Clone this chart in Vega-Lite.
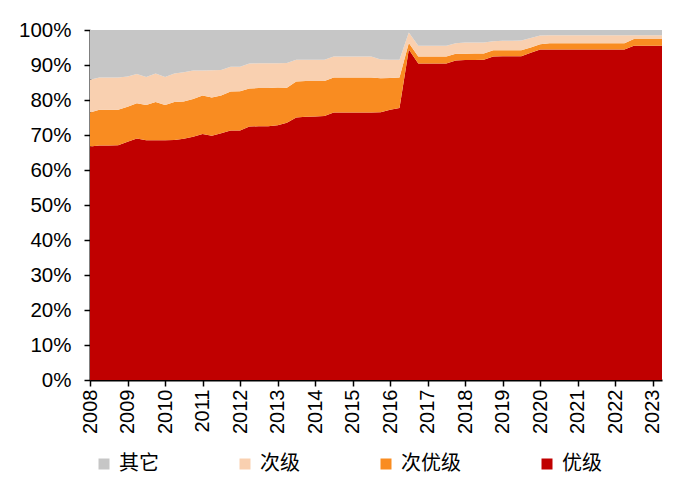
{
  "$schema": "https://vega.github.io/schema/vega-lite/v6.json",
  "width": 572,
  "height": 350,
  "autosize": {"type": "none"},
  "padding": {"left": 90, "top": 30, "right": 22, "bottom": 104},
  "background": "white",
  "config": {"view": {"stroke": null}, "font": "Liberation Sans"},
  "data": {"values": [
    {"d": "2008-01-01", "优级": 66.7, "次优级": 9.7, "次级": 9.4, "其它": 14.2},
    {"d": "2008-04-01", "优级": 67.0, "次优级": 10.2, "次级": 9.2, "其它": 13.6},
    {"d": "2008-07-01", "优级": 67.0, "次优级": 10.2, "次级": 9.2, "其它": 13.6},
    {"d": "2008-10-01", "优级": 67.1, "次优级": 10.1, "次级": 9.2, "其它": 13.6},
    {"d": "2009-01-01", "优级": 68.1, "次优级": 10.0, "次级": 8.6, "其它": 13.3},
    {"d": "2009-04-01", "优级": 69.0, "次优级": 10.1, "次级": 8.3, "其它": 12.6},
    {"d": "2009-07-01", "优级": 68.5, "次优级": 10.1, "次级": 8.0, "其它": 13.4},
    {"d": "2009-10-01", "优级": 68.5, "次优级": 10.9, "次级": 8.2, "其它": 12.4},
    {"d": "2010-01-01", "优级": 68.5, "次优级": 10.1, "次级": 8.0, "其它": 13.4},
    {"d": "2010-04-01", "优级": 68.6, "次优级": 10.8, "次级": 8.2, "其它": 12.4},
    {"d": "2010-07-01", "优级": 68.9, "次优级": 10.7, "次级": 8.3, "其它": 12.1},
    {"d": "2010-10-01", "优级": 69.5, "次优级": 10.8, "次级": 8.1, "其它": 11.6},
    {"d": "2011-01-01", "优级": 70.3, "次优级": 11.0, "次级": 7.1, "其它": 11.6},
    {"d": "2011-04-01", "优级": 69.8, "次优级": 10.9, "次级": 7.8, "其它": 11.5},
    {"d": "2011-07-01", "优级": 70.5, "次优级": 10.8, "次级": 7.3, "其它": 11.4},
    {"d": "2011-10-01", "优级": 71.3, "次优级": 11.1, "次级": 7.1, "其它": 10.5},
    {"d": "2012-01-01", "优级": 71.3, "次优级": 11.2, "次级": 7.0, "其它": 10.5},
    {"d": "2012-04-01", "优级": 72.4, "次优级": 10.9, "次级": 7.1, "其它": 9.6},
    {"d": "2012-07-01", "优级": 72.5, "次优级": 10.9, "次级": 7.1, "其它": 9.5},
    {"d": "2012-10-01", "优级": 72.5, "次优级": 10.9, "次级": 7.1, "其它": 9.5},
    {"d": "2013-01-01", "优级": 72.8, "次优级": 10.8, "次级": 6.9, "其它": 9.5},
    {"d": "2013-04-01", "优级": 73.5, "次优级": 10.0, "次级": 7.1, "其它": 9.4},
    {"d": "2013-07-01", "优级": 75.0, "次优级": 10.3, "次级": 6.2, "其它": 8.5},
    {"d": "2013-10-01", "优级": 75.2, "次优级": 10.2, "次级": 6.1, "其它": 8.5},
    {"d": "2014-01-01", "优级": 75.3, "次优级": 10.1, "次级": 6.1, "其它": 8.5},
    {"d": "2014-04-01", "优级": 75.4, "次优级": 10.0, "次级": 6.1, "其它": 8.5},
    {"d": "2014-07-01", "优级": 76.4, "次优级": 10.0, "次级": 6.0, "其它": 7.6},
    {"d": "2014-10-01", "优级": 76.4, "次优级": 10.0, "次级": 6.0, "其它": 7.6},
    {"d": "2015-01-01", "优级": 76.4, "次优级": 10.0, "次级": 6.0, "其它": 7.6},
    {"d": "2015-04-01", "优级": 76.4, "次优级": 10.0, "次级": 6.0, "其它": 7.6},
    {"d": "2015-07-01", "优级": 76.4, "次优级": 10.0, "次级": 6.0, "其它": 7.6},
    {"d": "2015-10-01", "优级": 76.5, "次优级": 9.7, "次级": 5.4, "其它": 8.4},
    {"d": "2016-01-01", "优级": 77.2, "次优级": 9.1, "次级": 5.2, "其它": 8.5},
    {"d": "2016-04-01", "优级": 77.7, "次优级": 8.7, "次级": 5.1, "其它": 8.5},
    {"d": "2016-07-01", "优级": 94.4, "次优级": 1.9, "次级": 3.0, "其它": 0.7},
    {"d": "2016-10-01", "优级": 90.4, "次优级": 2.0, "次级": 3.1, "其它": 4.5},
    {"d": "2017-01-01", "优级": 90.4, "次优级": 2.0, "次级": 3.1, "其它": 4.5},
    {"d": "2017-04-01", "优级": 90.4, "次优级": 2.0, "次级": 3.1, "其它": 4.5},
    {"d": "2017-07-01", "优级": 90.4, "次优级": 2.0, "次级": 3.1, "其它": 4.5},
    {"d": "2017-10-01", "优级": 91.3, "次优级": 1.9, "次级": 3.0, "其它": 3.8},
    {"d": "2018-01-01", "优级": 91.4, "次优级": 1.8, "次级": 3.2, "其它": 3.6},
    {"d": "2018-04-01", "优级": 91.4, "次优级": 1.9, "次级": 3.1, "其它": 3.6},
    {"d": "2018-07-01", "优级": 91.5, "次优级": 1.8, "次级": 3.1, "其它": 3.6},
    {"d": "2018-10-01", "优级": 92.4, "次优级": 1.8, "次级": 2.6, "其它": 3.2},
    {"d": "2019-01-01", "优级": 92.5, "次优级": 1.7, "次级": 2.7, "其它": 3.1},
    {"d": "2019-04-01", "优级": 92.5, "次优级": 1.7, "次级": 2.7, "其它": 3.1},
    {"d": "2019-07-01", "优级": 92.5, "次优级": 1.7, "次级": 2.8, "其它": 3.0},
    {"d": "2019-10-01", "优级": 93.5, "次优级": 1.5, "次级": 2.7, "其它": 2.3},
    {"d": "2020-01-01", "优级": 94.4, "次优级": 1.5, "次级": 2.5, "其它": 1.6},
    {"d": "2020-04-01", "优级": 94.4, "次优级": 1.8, "次级": 2.3, "其它": 1.5},
    {"d": "2020-07-01", "优级": 94.4, "次优级": 1.8, "次级": 2.3, "其它": 1.5},
    {"d": "2020-10-01", "优级": 94.4, "次优级": 1.8, "次级": 2.3, "其它": 1.5},
    {"d": "2021-01-01", "优级": 94.4, "次优级": 1.8, "次级": 2.3, "其它": 1.5},
    {"d": "2021-04-01", "优级": 94.4, "次优级": 1.8, "次级": 2.3, "其它": 1.5},
    {"d": "2021-07-01", "优级": 94.4, "次优级": 1.8, "次级": 2.3, "其它": 1.5},
    {"d": "2021-10-01", "优级": 94.4, "次优级": 1.8, "次级": 2.3, "其它": 1.5},
    {"d": "2022-01-01", "优级": 94.4, "次优级": 1.8, "次级": 2.3, "其它": 1.5},
    {"d": "2022-04-01", "优级": 94.4, "次优级": 1.8, "次级": 2.3, "其它": 1.5},
    {"d": "2022-07-01", "优级": 95.5, "次优级": 1.9, "次级": 1.1, "其它": 1.5},
    {"d": "2022-10-01", "优级": 95.5, "次优级": 1.9, "次级": 1.1, "其它": 1.5},
    {"d": "2023-01-01", "优级": 95.5, "次优级": 1.9, "次级": 1.1, "其它": 1.5},
    {"d": "2023-04-01", "优级": 95.5, "次优级": 1.9, "次级": 1.1, "其它": 1.5}
  ]},
  "transform": [
    {"fold": ["优级", "次优级", "次级", "其它"], "as": ["grade", "share"]},
    {"calculate": "indexof(['优级', '次优级', '次级', '其它'], datum.grade)", "as": "rank"}
  ],
  "mark": {"type": "area", "interpolate": "linear", "strokeWidth": 0},
  "encoding": {
    "x": {
      "field": "d", "type": "temporal",
      "scale": {"type": "utc", "nice": false},
      "axis": {
        "title": null, "format": "%Y", "tickCount": {"interval": "year", "step": 1},
        "labelAngle": -90, "labelFontSize": 20, "labelColor": "black", "labelFont": "Liberation Sans",
        "domainColor": "black", "domainWidth": 2, "tickColor": "black", "tickWidth": 1.5, "tickSize": 6,
        "labelPadding": 3, "grid": false, "labelOverlap": false, "labelFlush": false
      }
    },
    "y": {
      "field": "share", "type": "quantitative", "stack": "zero",
      "scale": {"domain": [0, 100], "nice": false},
      "axis": {
        "title": null, "values": [0, 10, 20, 30, 40, 50, 60, 70, 80, 90, 100],
        "labelExpr": "datum.value + '%'", "labelFontSize": 20.5, "labelColor": "black", "labelFont": "Liberation Sans",
        "domainColor": "black", "domainWidth": 2, "tickColor": "black", "tickWidth": 1.5, "tickSize": 6,
        "labelPadding": 13, "grid": false
      }
    },
    "order": {"field": "rank", "type": "quantitative", "sort": "ascending"},
    "color": {
      "field": "grade", "type": "nominal",
      "scale": {"domain": ["其它", "次级", "次优级", "优级"], "range": ["#C6C6C6", "#F9D0B0", "#F98C21", "#C00000"]},
      "legend": {
        "title": null, "orient": "none", "direction": "horizontal", "legendX": 4, "legendY": 424,
        "symbolType": "square", "symbolSize": 121, "symbolStrokeWidth": 0, "symbolOpacity": 1,
        "labelFont": "Noto Sans CJK SC", "labelFontSize": 20, "labelColor": "black", "labelOffset": 5,
        "columnPadding": 76, "gridAlign": "none", "padding": 0
      }
    }
  }
}
